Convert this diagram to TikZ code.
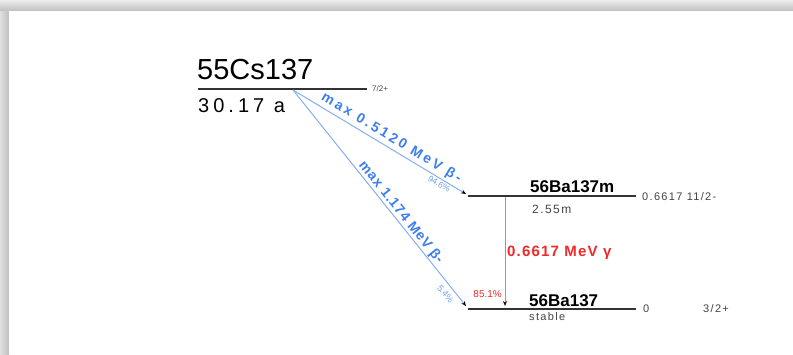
\documentclass[tikz,border=0pt]{standalone}
\usepackage{fontspec}
\setmainfont{Liberation Sans}
\newfontfamily\lsA[LetterSpace=20]{Liberation Sans}
\newfontfamily\lsB[LetterSpace=6]{Liberation Sans}
\newfontfamily\lsC[LetterSpace=12]{Liberation Sans}
\newfontfamily\lsD[LetterSpace=8]{Liberation Sans}
\usetikzlibrary{arrows.meta}
\definecolor{betaline}{HTML}{86AEF2}
\definecolor{betatext}{HTML}{3D7EEE}
\definecolor{pcttext}{HTML}{6F9FF0}
\definecolor{gline}{HTML}{EE7185}
\definecolor{gtext}{HTML}{EE2A2A}
\definecolor{lvl}{HTML}{333333}
\definecolor{smalltext}{HTML}{444444}
\tikzset{
  levelline/.style={draw=lvl, line width=2.2pt},
  betaarrow/.style={draw=betaline, line width=1pt, -{Stealth[length=5pt,width=4pt,color=black]}},
  gammaarrow/.style={draw=gline, line width=1pt, -{Stealth[length=5pt,width=4pt,color=black!80!red]}},
  betalabel/.style={text=betatext, font=\lsA\bfseries\fontsize{14}{14}\selectfont},
  betalabelb/.style={text=betatext, font=\lsB\bfseries\fontsize{14}{14}\selectfont},
  pctlabel/.style={text=pcttext, font=\fontsize{8.5}{8.5}\selectfont},
  lvlname/.style={anchor=base west, text=black, font=\bfseries\fontsize{17}{17}\selectfont},
  small/.style={text=smalltext, font=\lsC\fontsize{11}{11}\selectfont},
}
\begin{document}
\begin{tikzpicture}[x=1pt,y=-1pt]
\useasboundingbox (0,0) rectangle (793,354);
% frame shadow
\shade[top color=gray!15, bottom color=gray!50] (0,0) rectangle (793,11);
\shade[left color=gray!25, right color=gray!50] (0,11) rectangle (9,354);
\fill[white] (9,11) rectangle (793,354);

% levels
\coordinate (csL) at (198,89);  \coordinate (csR) at (367,89);
\coordinate (bmL) at (468,196); \coordinate (bmR) at (636,196);
\coordinate (bL)  at (468,309); \coordinate (bR)  at (636,309);
\draw[levelline] (csL) -- (csR);
\draw[levelline] (bmL) -- (bmR);
\draw[levelline] (bL) -- (bR);

% level labels
\node[anchor=base west, font=\fontsize{29}{29}\selectfont, inner sep=0pt] (cs) at (197,79) {55Cs137};
\node[anchor=base west, font=\lsA\fontsize{20}{20}\selectfont, inner sep=0pt] (cshl) at (198,112) {30.17 a};
\node[anchor=west, small, font=\fontsize{8}{8}\selectfont, inner sep=0pt] (csj) at (372,89) {7/2+};

\node[lvlname, inner sep=0pt] (bam) at (530,192) {56Ba137m};
\node[anchor=base west, small, font=\lsC\fontsize{12}{12}\selectfont, inner sep=0pt] (bamhl) at (532,213) {2.55m};
\node[anchor=west, small, inner sep=0pt] (bamj) at (642,197) {0.6617 11/2-};

\node[lvlname, inner sep=0pt] (ba) at (529,306) {56Ba137};
\node[anchor=base west, small, font=\lsC\fontsize{11}{11}\selectfont, inner sep=0pt] (bast) at (529,320) {stable};
\node[anchor=west, small, inner sep=0pt] (baz) at (643,309) {0};
\node[anchor=west, small, inner sep=0pt] (baj) at (703,309) {3/2+};

% beta decays
\coordinate (src) at (293,90);
\coordinate (e1) at (466,194);
\coordinate (e2) at (466,306);
\draw[betaarrow] (src) -- node[sloped, pos=0.54, anchor=south, inner sep=2.5pt, betalabel] (l1) {max 0.5120 MeV β-}
  node[sloped, pos=0.86, anchor=north, inner sep=1.5pt, pctlabel] (p1) {94.6\%} (e1);
\draw[betaarrow] (src) -- node[sloped, pos=0.59, anchor=south, inner sep=0.5pt, betalabelb] (l2) {max 1.174 MeV β-}
  node[sloped, pos=0.92, anchor=north, inner sep=5pt, pctlabel, font=\fontsize{9}{9}\selectfont] (p2) {5.4\%} (e2);

% gamma
\coordinate (g1) at (505,197);
\coordinate (g2) at (505,306);
\draw[gammaarrow] (g1) -- (g2);
\node[anchor=base west, text=gtext, font=\lsD\bfseries\fontsize{15}{15}\selectfont, inner sep=0pt] (gl) at (507,256) {0.6617 MeV γ};
\node[anchor=base east, text=gtext, font=\fontsize{10}{10}\selectfont, inner sep=0pt] (gp) at (502,297) {85.1\%};
\end{tikzpicture}
\end{document}
